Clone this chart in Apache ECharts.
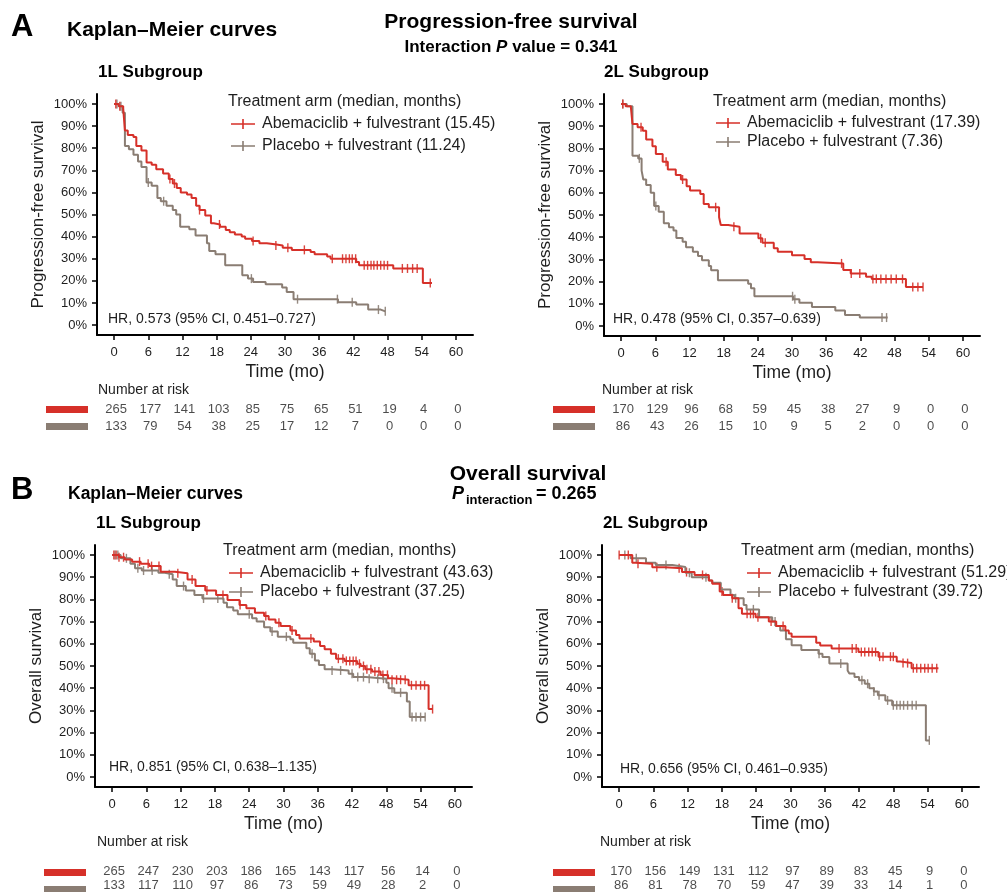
<!DOCTYPE html>
<html>
<head>
<meta charset="utf-8" />
<title>Kaplan–Meier curves</title>
<script src="https://cdn.jsdelivr.net/npm/echarts@6.0.0/dist/echarts.min.js"></script>
<style>html,body{margin:0;padding:0;background:#fff;} #main{width:1007px;height:892px;}</style>
</head>
<body>
<div id="main"></div>
<script>
// ticks
var monthTicks = [0, 6, 12, 18, 24, 30, 36, 42, 48, 54, 60];
var pctTicks = [0, 10, 20, 30, 40, 50, 60, 70, 80, 90, 100];
var riskTimes = [0, 6, 12, 18, 24, 30, 36, 42, 48, 54, 60];

// PFS, 1L subgroup  [month, survival %]
var pfs1LAbema = [[0,100],[0.8,99],[1.6,98],[1.9,88],[2.4,86],[3.4,85],[3.9,81],[4.8,79],[5.7,73.5],[6.6,72.5],[7.4,70.5],[8.6,68.5],[9.6,66],[10.3,64],[11,62],[11.7,60],[12.8,59],[13.6,57.5],[14.4,54],[15,52],[16,49.5],[17,46],[17.5,45.5],[18.6,44.5],[19.6,43],[20.3,42],[21.2,41],[22.4,40],[23,39],[24.2,38],[25.5,37],[26.8,36.5],[28.2,36],[29.6,35],[31.2,34],[34.5,33],[35.2,32],[37.4,31],[38,30],[42.5,28.5],[43,27],[49,25.6],[54.2,19],[55.8,19]];
var pfs1LPlacebo = [[0,100],[0.9,99],[1.5,96],[1.9,81],[2.6,79.5],[3.4,77],[4.2,74],[4.8,71.5],[5.7,64.5],[6.6,63],[7.6,57.5],[8.2,56],[9.2,54],[10.3,52],[10.9,50],[11.6,44.5],[13.2,43.3],[14.3,40.5],[16.3,37],[16.7,33.5],[17.8,32],[19.5,27],[22.5,22.5],[23.5,21],[24.4,19.5],[26.6,18.5],[29.5,17],[30.3,15],[31.5,11.7],[39.3,10.3],[42.5,9.3],[44.6,7],[46.8,6.2],[47.6,6.2]];
var pfs1LAbemaCens = [0.3,1.0,9.8,10.6,15.0,18.5,24.4,28.4,30.5,33.4,38.3,40.1,40.7,41.3,41.8,42.4,43.9,44.5,45.1,45.6,46.2,46.8,47.4,48.0,50.6,51.5,52.4,53.2,55.5];
var pfs1LPlaceboCens = [0.5,1.2,6.0,8.7,24.1,32.2,39.2,41.8,46.4,47.6];

// PFS, 2L subgroup
var pfs2LAbema = [[0,100],[0.8,99],[1.7,98.5],[2.0,91],[2.9,89.5],[3.8,88],[4.4,84],[5.5,81],[6.1,77.5],[7.3,74],[8.2,70.5],[9.6,68],[10.5,66],[11.5,63],[12.1,61],[13.9,59.5],[14.5,55],[15.4,53.5],[17.2,49],[17.5,45.5],[18.8,44.7],[20.8,41.7],[24.1,39.5],[24.8,37.5],[26.8,35],[27.5,33.4],[30,31.9],[32.2,30.2],[33.3,28.7],[34.5,28.2],[39,25.2],[40.3,23.7],[43,22.2],[44,21.2],[50,17.6],[53,17.6]];
var pfs2LPlacebo = [[0,100],[1.0,99],[2.0,76.7],[3.0,75.5],[3.6,70],[3.9,66],[4.4,63.5],[5.2,60],[5.8,54],[6.6,51.5],[7.5,46.3],[8.4,44.5],[9.2,43],[9.7,39.6],[10.8,38],[11.4,35.5],[12.6,33.5],[13.5,31.5],[14.2,29.6],[15.4,27],[15.8,25.1],[17,20.6],[22.3,19],[22.8,17],[23.4,13.4],[30.2,12],[31.3,10.5],[33.5,8.6],[37.6,7],[39.3,5],[41.9,3.8],[46.8,3.8]];
var pfs2LAbemaCens = [0.3,3.5,7.9,10.8,16.6,19.8,24.5,25.3,38.7,40.4,41.9,44.2,44.8,45.6,46.5,47.4,48.3,49.4,51.2,52.1,53.0];
var pfs2LPlaceboCens = [0.3,3.2,6.1,30.1,30.5,45.8,46.6];

// OS, 1L subgroup
var os1LAbema = [[0,100],[1.2,99],[2.2,98],[3.5,97],[5,96],[6.5,95],[8.5,92.5],[11,91.8],[13.2,89],[14.6,86],[16.3,84],[18.2,82],[20.2,79.7],[22.3,77.5],[23.5,76],[25,74],[26.6,72.5],[27.4,71],[28.6,69.5],[29.5,68],[31.2,66],[32.2,64],[32.8,62.4],[35.3,61],[36.4,59],[37.2,57.5],[38.3,55.5],[39.2,53.3],[40.7,52.3],[42.9,51],[43.5,50],[44.3,48.5],[45.5,47.5],[47,46],[48.3,44.5],[49,43.8],[51.9,41.3],[55.4,30.6],[56.1,30.6]];
var os1LPlacebo = [[0,100],[1.5,98.5],[3.2,96],[4,94],[5.2,93],[8.1,92],[9.2,91.3],[10.6,89],[11.3,86],[12.9,84],[14.4,82],[15.8,80.4],[19.5,78.5],[20.1,76.5],[21.2,75],[22,73.3],[24.5,71.5],[25.3,70],[26.6,67.5],[27.7,65.5],[29,63.2],[31.2,62],[31.7,60.5],[34,58],[34.6,55.5],[35.5,52.5],[36.2,50.5],[37.2,48.5],[38.5,48],[41.4,46.5],[42.2,45],[44.4,44.3],[48,42.5],[48.4,40],[49.4,38],[51.6,34],[52.1,27],[54.8,27]];
var os1LAbemaCens = [0.3,0.7,1.2,2.0,4.8,6.3,6.9,8.2,11.5,14.0,16.6,19.4,22.4,26.9,29.2,31.5,34.8,39.6,40.4,41.0,41.6,42.2,42.7,43.3,44.0,44.6,45.3,46.0,46.7,47.4,48.2,49.0,49.8,50.5,51.3,52.4,53.2,54.0,54.7,56.1];
var os1LPlaceboCens = [0.5,1.0,2.5,4.5,5.5,7.0,10.0,12.5,16.0,18.5,24.0,28.0,30.5,35.0,38.5,40.0,42.0,43.0,44.0,45.0,46.5,47.5,49.0,50.5,52.5,53.2,54.0,54.8];

// OS, 2L subgroup
var os2LAbema = [[0,100],[2.3,96.5],[2.9,96],[5.8,94.5],[8.1,94],[11,92.3],[13.2,91],[15.7,88.5],[16.3,87],[17.6,83.5],[18.2,82],[19.8,80.5],[20.9,76],[21.5,73.5],[23.9,72],[26.2,70],[27.5,68],[29.1,66],[29.7,64.6],[30.2,63.2],[34.5,60.5],[35.2,59.2],[37.2,57.9],[41.9,56.3],[45.4,54.2],[48.6,52],[49.2,51.3],[51.2,49],[55.9,49]];
var os2LPlacebo = [[0,100],[2.0,98.5],[4.7,96.5],[6.4,95.5],[9.3,94.6],[11.6,92],[12.7,90],[15.7,88.5],[16.3,87.5],[17.8,84.5],[19.5,82],[20.2,80.5],[21.8,77.5],[22.3,75.5],[24.5,72],[26.8,70],[27.4,68],[28.2,66],[29.2,62],[30.2,59.4],[31.9,57.2],[34.9,55.5],[35.6,54],[36.8,51.1],[40,48],[40.3,46.6],[41.2,45],[42,43.6],[43,42],[43.8,40],[44.6,38.5],[45.3,36.8],[46.6,34.5],[47.8,32.3],[53.7,16.5],[54.3,16.5]];
var os2LAbemaCens = [0.0,1.6,3.3,6.6,10.5,11.8,14.6,18.0,19.8,22.4,23.0,23.5,24.3,26.6,28.7,38.5,40.8,41.5,42.4,43.0,43.7,44.3,44.9,45.6,46.2,47.5,48.0,49.7,50.5,51.5,52.1,52.8,53.5,54.1,54.8,55.6];
var os2LPlaceboCens = [1.0,3.0,8.2,12.3,15.2,20.4,23.5,27.3,35.0,38.8,42.5,43.5,44.6,45.5,47.0,48.0,48.6,49.2,49.8,50.5,51.3,52.0,54.3];

// legend labels, medians
var abemaNames = ['Abemaciclib + fulvestrant (15.45)', 'Abemaciclib + fulvestrant (17.39)', 'Abemaciclib + fulvestrant (43.63)', 'Abemaciclib + fulvestrant (51.29)'];
var placeboNames = ['Placebo + fulvestrant (11.24)', 'Placebo + fulvestrant (7.36)', 'Placebo + fulvestrant (37.25)', 'Placebo + fulvestrant (39.72)'];
var hrTexts = ['HR, 0.573 (95% CI, 0.451–0.727)', 'HR, 0.478 (95% CI, 0.357–0.639)', 'HR, 0.851 (95% CI, 0.638–1.135)', 'HR, 0.656 (95% CI, 0.461–0.935)'];

// number at risk
var riskPfs1LAbema = [265, 177, 141, 103, 85, 75, 65, 51, 19, 4, 0];
var riskPfs1LPlacebo = [133, 79, 54, 38, 25, 17, 12, 7, 0, 0, 0];
var riskPfs2LAbema = [170, 129, 96, 68, 59, 45, 38, 27, 9, 0, 0];
var riskPfs2LPlacebo = [86, 43, 26, 15, 10, 9, 5, 2, 0, 0, 0];
var riskOs1LAbema = [265, 247, 230, 203, 186, 165, 143, 117, 56, 14, 0];
var riskOs1LPlacebo = [133, 117, 110, 97, 86, 73, 59, 49, 28, 2, 0];
var riskOs2LAbema = [170, 156, 149, 131, 112, 97, 89, 83, 45, 9, 0];
var riskOs2LPlacebo = [86, 81, 78, 70, 59, 47, 39, 33, 14, 1, 0];

var RED = '#d63029', GRAY = '#8a7d73', INK = '#1e1e1e';
var FONT = '"Liberation Sans", Arial, sans-serif';

var panels = [
  { left: 97, top: 94, w: 376, h: 241, yName: 'Progression-free survival', abema: pfs1LAbema, placebo: pfs1LPlacebo, abemaCens: pfs1LAbemaCens, placeboCens: pfs1LPlaceboCens, riskA: riskPfs1LAbema, riskP: riskPfs1LPlacebo, riskTop: 401, legX: 231, legY: 116, legGap: 6, hdrX: 228, hdrY: 102, hrX: 108, hrY: 319, barX: 46, natX: 98, natY: 390 },
  { left: 604, top: 94, w: 376, h: 242, yName: 'Progression-free survival', abema: pfs2LAbema, placebo: pfs2LPlacebo, abemaCens: pfs2LAbemaCens, placeboCens: pfs2LPlaceboCens, riskA: riskPfs2LAbema, riskP: riskPfs2LPlacebo, riskTop: 401, legX: 716, legY: 115, legGap: 3, hdrX: 713, hdrY: 102, hrX: 613, hrY: 319, barX: 553, natX: 602, natY: 390 },
  { left: 95, top: 545, w: 377, h: 242, yName: 'Overall survival', abema: os1LAbema, placebo: os1LPlacebo, abemaCens: os1LAbemaCens, placeboCens: os1LPlaceboCens, riskA: riskOs1LAbema, riskP: riskOs1LPlacebo, riskTop: 864, legX: 229, legY: 565, legGap: 3, hdrX: 223, hdrY: 551, hrX: 109, hrY: 767, barX: 44, natX: 97, natY: 842 },
  { left: 602, top: 545, w: 377, h: 242, yName: 'Overall survival', abema: os2LAbema, placebo: os2LPlacebo, abemaCens: os2LAbemaCens, placeboCens: os2LPlaceboCens, riskA: riskOs2LAbema, riskP: riskOs2LPlacebo, riskTop: 864, legX: 747, legY: 565, legGap: 3, hdrX: 741, hdrY: 551, hrX: 620, hrY: 769, barX: 553, natX: 600, natY: 842 }
];

function survAt(steps, t) {
  var s = steps[0][1];
  for (var k = 0; k < steps.length; k++) {
    if (steps[k][0] <= t) s = steps[k][1]; else break;
  }
  return s;
}

var plusIcon = 'path://M0,4.2H24V5.8H0Z M11.2,0H12.8V10H11.2Z';
var grids = [], xAxes = [], yAxes = [], series = [], legends = [], graphics = [];

panels.forEach(function (p, i) {
  var gi = 2 * i, ri = 2 * i + 1;   // curve grid, risk-table grid
  grids.push({ left: p.left, top: p.top, width: p.w, height: p.h });
  xAxes.push({
    type: 'value', gridIndex: gi, min: -3, max: 63,
    axisLine: { onZero: false, lineStyle: { color: '#000', width: 2 } },
    axisTick: { show: true, length: 5, customValues: monthTicks, lineStyle: { color: '#000', width: 1.5 } },
    axisLabel: { customValues: monthTicks, fontSize: 13, margin: 11, color: INK, fontFamily: FONT },
    splitLine: { show: false },
    name: 'Time (mo)', nameLocation: 'middle', nameGap: 28,
    nameTextStyle: { fontSize: 17.5, color: INK, fontFamily: FONT }
  });
  yAxes.push({
    type: 'value', gridIndex: gi, min: -4.5, max: 104.5,
    axisLine: { show: true, onZero: false, lineStyle: { color: '#000', width: 2 } },
    axisTick: { show: true, length: 5, customValues: pctTicks, lineStyle: { color: '#000', width: 1.5 } },
    axisLabel: { customValues: pctTicks, formatter: '{value}%', fontSize: 13, margin: 10, color: INK, fontFamily: FONT },
    splitLine: { show: false },
    name: p.yName, nameLocation: 'middle', nameGap: 50,
    nameTextStyle: { fontSize: 17, color: INK, fontFamily: FONT }
  });

  // risk table grid
  grids.push({ left: p.left, top: p.riskTop, width: p.w, height: 34 });
  xAxes.push({ type: 'value', gridIndex: ri, min: -3, max: 63, show: false });
  yAxes.push({ type: 'category', gridIndex: ri, data: ['abema', 'placebo'], inverse: true, show: false });

  [[p.placebo, p.placeboCens, GRAY, placeboNames[i]], [p.abema, p.abemaCens, RED, abemaNames[i]]].forEach(function (arm) {
    series.push({
      type: 'line', name: arm[3], xAxisIndex: gi, yAxisIndex: gi, data: arm[0], step: 'end',
      showSymbol: false, symbol: 'none', silent: true,
      lineStyle: { color: arm[2], width: 2 }, itemStyle: { color: arm[2] }
    });
    series.push({
      type: 'scatter', xAxisIndex: gi, yAxisIndex: gi, silent: true,
      data: arm[1].map(function (t) { return [t, survAt(arm[0], t)]; }),
      symbol: 'rect', symbolSize: [1.4, 9], itemStyle: { color: arm[2], opacity: 0.9 }
    });
  });

  legends.push({
    left: p.legX, top: p.legY, orient: 'vertical', itemGap: p.legGap, itemWidth: 24, itemHeight: 10,
    icon: plusIcon, padding: 0, selectedMode: false,
    data: [abemaNames[i], placeboNames[i]],
    textStyle: { fontSize: 16, color: INK, fontFamily: FONT, padding: [0, 0, 0, 2] }
  });

  [[p.riskA, 'abema'], [p.riskP, 'placebo']].forEach(function (row) {
    series.push({
      type: 'scatter', xAxisIndex: ri, yAxisIndex: ri, silent: true,
      symbolSize: 1, itemStyle: { color: 'rgba(0,0,0,0)' },
      data: row[0].map(function (n, k) { return [riskTimes[k], row[1], n]; }),
      label: { show: true, position: 'inside', formatter: function (q) { return q.data[2]; }, fontSize: 13, color: INK, fontFamily: FONT, offset: [2, 0] }
    });
  });

  graphics.push(
    { type: 'text', x: p.hdrX, y: p.hdrY, style: { text: 'Treatment arm (median, months)', font: '16px ' + FONT, fill: INK, verticalAlign: 'middle' } },
    { type: 'text', x: p.hrX, y: p.hrY, style: { text: hrTexts[i], font: '14px ' + FONT, fill: INK, verticalAlign: 'middle' } },
    { type: 'text', x: p.natX, y: p.natY, style: { text: 'Number at risk', font: '14px ' + FONT, fill: INK, verticalAlign: 'middle' } },
    { type: 'rect', shape: { x: p.barX, y: p.riskTop + 5, width: 42, height: 7 }, style: { fill: RED } },
    { type: 'rect', shape: { x: p.barX, y: p.riskTop + 22, width: 42, height: 7 }, style: { fill: GRAY } }
  );
});

// headings
graphics.push(
  { type: 'text', x: 11, y: 27, style: { text: 'A', font: 'bold 31px ' + FONT, fill: '#000', verticalAlign: 'middle' } },
  { type: 'text', x: 67, y: 30, style: { text: 'Kaplan–Meier curves', font: 'bold 21px ' + FONT, fill: '#000', verticalAlign: 'middle' } },
  { type: 'text', x: 511, y: 22, style: { text: 'Progression-free survival', font: 'bold 21px ' + FONT, fill: '#000', align: 'center', verticalAlign: 'middle' } },
  { type: 'text', x: 511, y: 47, style: {
      text: '{b|Interaction }{i|P}{b| value = 0.341}', align: 'center', verticalAlign: 'middle',
      rich: { b: { font: 'bold 17px ' + FONT, fill: '#000' }, i: { font: 'italic bold 17px ' + FONT, fill: '#000' } } } },
  { type: 'text', x: 98, y: 72, style: { text: '1L Subgroup', font: 'bold 17px ' + FONT, fill: '#000', verticalAlign: 'middle' } },
  { type: 'text', x: 604, y: 72, style: { text: '2L Subgroup', font: 'bold 17px ' + FONT, fill: '#000', verticalAlign: 'middle' } },
  { type: 'text', x: 11, y: 490, style: { text: 'B', font: 'bold 31px ' + FONT, fill: '#000', verticalAlign: 'middle' } },
  { type: 'text', x: 68, y: 494, style: { text: 'Kaplan–Meier curves', font: 'bold 17.5px ' + FONT, fill: '#000', verticalAlign: 'middle' } },
  { type: 'text', x: 528, y: 474, style: { text: 'Overall survival', font: 'bold 21px ' + FONT, fill: '#000', align: 'center', verticalAlign: 'middle' } },
  { type: 'text', x: 452, y: 494, style: { text: 'P', font: 'italic bold 18px ' + FONT, fill: '#000', verticalAlign: 'middle' } },
  { type: 'text', x: 466, y: 500, style: { text: 'interaction', font: 'bold 13px ' + FONT, fill: '#000', verticalAlign: 'middle' } },
  { type: 'text', x: 536, y: 494, style: { text: '= 0.265', font: 'bold 18px ' + FONT, fill: '#000', verticalAlign: 'middle' } },
  { type: 'text', x: 96, y: 523, style: { text: '1L Subgroup', font: 'bold 17px ' + FONT, fill: '#000', verticalAlign: 'middle' } },
  { type: 'text', x: 603, y: 523, style: { text: '2L Subgroup', font: 'bold 17px ' + FONT, fill: '#000', verticalAlign: 'middle' } }
);

var chart = echarts.init(document.getElementById('main'));
chart.setOption({
  backgroundColor: '#fff',
  animation: false,
  textStyle: { fontFamily: FONT },
  grid: grids,
  xAxis: xAxes,
  yAxis: yAxes,
  legend: legends,
  series: series,
  graphic: graphics
});
</script>
</body>
</html>
